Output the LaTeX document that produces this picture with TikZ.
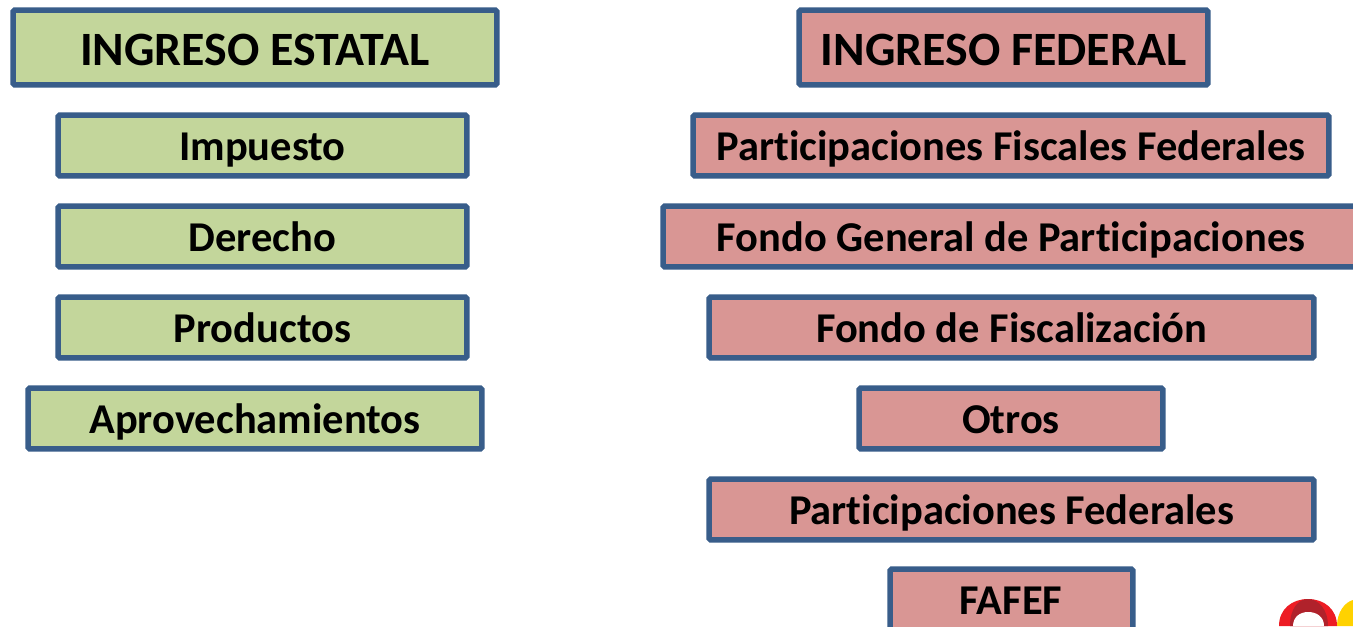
\documentclass[tikz,border=0pt]{standalone}
\usepackage{fontspec}
\setmainfont[RawFeature={-liga;-clig}]{Carlito}
\definecolor{edgeblue}{HTML}{385D8A}
\definecolor{boxgreen}{HTML}{C3D69B}
\definecolor{boxred}{HTML}{D99694}
\definecolor{logored}{HTML}{ED1C24}
\definecolor{logodark}{HTML}{B0222B}
\definecolor{logoyellow}{HTML}{FFD200}
\tikzset{
  plainbox/.style={draw=edgeblue,line width=4pt,rounded corners=1pt,inner sep=0pt,
    text=black,font=\bfseries\fontsize{31.85}{33}\selectfont,text height=25pt,text depth=2pt},
  bigbox/.style={plainbox,font=\bfseries\fontsize{35.9}{37}\selectfont,text height=28pt,text depth=1pt},
  greenbox/.style={fill=boxgreen},
  redbox/.style={fill=boxred}
}
% name, x0, y0, x1, y1 (outer edges in px), style, text
\newcommand{\boxat}[7]{%
  \pgfmathsetmacro{\wpx}{(#4-#2-4.3)*0.75}%
  \pgfmathsetmacro{\hpx}{(#5-#3-4.3)*0.75}%
  \node[#6,minimum width=\wpx pt,minimum height=\hpx pt] (#1) at ({(#2+#4)/2},{(#3+#5)/2}) {#7};}
\begin{document}
\begin{tikzpicture}[x=0.75pt,y=-0.75pt]
\useasboundingbox (0,0) rectangle (1353,626);
\clip (0,0) rectangle (1353,626);
\fill[white] (0,0) rectangle (1353,626);
\boxat{estatal}{11}{8}{499}{87}{bigbox,greenbox}{INGRESO ESTATAL}
\boxat{impuesto}{56}{113}{469}{178}{plainbox,greenbox}{Impuesto}
\boxat{derecho}{56}{204}{469}{269}{plainbox,greenbox}{Derecho}
\boxat{productos}{56}{295}{469}{360}{plainbox,greenbox}{Productos}
\boxat{aprovecha}{26}{386}{484}{451}{plainbox,greenbox}{Aprovechamientos}
\boxat{federal}{797}{8}{1210}{87}{bigbox,redbox}{INGRESO FEDERAL}
\boxat{pff}{691}{113}{1331}{178}{plainbox,redbox}{Participaciones Fiscales Federales}
\boxat{fgp}{661}{204}{1361}{269}{plainbox,redbox}{Fondo General de Participaciones}
\boxat{fisc}{707}{295}{1316}{360}{plainbox,redbox}{Fondo de Fiscalización}
\boxat{otros}{857}{386}{1165}{451}{plainbox,redbox}{Otros}
\boxat{pf}{707}{477}{1316}{542}{plainbox,redbox}{Participaciones Federales}
\boxat{fafef}{888}{567}{1135}{637}{plainbox,redbox}{}
\node[font=\bfseries\fontsize{31.85}{33}\selectfont,inner sep=0pt,text height=25pt,text depth=2pt] (fafeftxt) at (1011,599.5) {FAFEF};
% logo fragment
\fill[logoyellow] (1337,626) .. controls (1337,612) and (1345,602) .. (1353,600) -- (1353,626) -- cycle;
\fill[logored] (1279,626) .. controls (1279,609) and (1292,599) .. (1308,599) .. controls (1324,599) and (1337,609) .. (1337,626) -- cycle;
\fill[logodark] (1290,626) .. controls (1290,609) and (1298,599) .. (1308,599) .. controls (1318,599) and (1328,609) .. (1328,626) -- cycle;
\fill[white] (1293,626) .. controls (1293,617) and (1300,612) .. (1308,612) .. controls (1317,612) and (1324,617) .. (1324,626) -- cycle;
\end{tikzpicture}
\end{document}
